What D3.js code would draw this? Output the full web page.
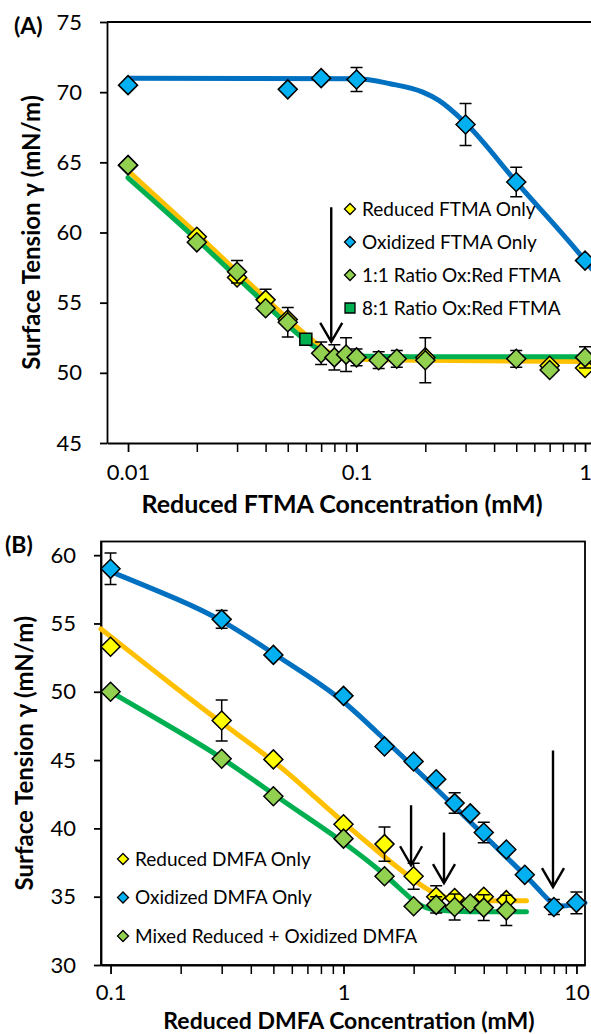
<!DOCTYPE html>
<html><head><meta charset="utf-8">
<script src="https://cdn.jsdelivr.net/npm/d3@7"></script>
<style>
body{margin:0;background:#fff}
svg{display:block}
text{font-family:Lato,"Open Sans",sans-serif;fill:#000}
</style>
</head><body>
<svg id="c" width="591" height="1034"></svg>
<script>
// ---------------- Panel A data (FTMA) ----------------
const aRedX  = [0.01, 0.02, 0.03, 0.04, 0.05, 0.2, 0.7, 1.0];
const aRedY  = [64.8, 59.7, 56.8, 55.2, 53.8, 51.1, 50.5, 50.35];
const aRedE  = [0, 0, 0, 0.75, 0, 0, 0, 0];
const aOxX   = [0.01, 0.05, 0.07, 0.1, 0.3, 0.5, 1.0];
const aOxY   = [70.5, 70.2, 71.0, 70.9, 67.7, 63.6, 58.0];
const aOxE   = [0, 0, 0.3, 0.85, 1.5, 1.05, 0];
const aMixX  = [0.01, 0.02, 0.03, 0.04, 0.05, 0.07, 0.08, 0.09, 0.1, 0.125, 0.15, 0.2, 0.5, 0.7, 1.0];
const aMixY  = [64.8, 59.3, 57.2, 54.6, 53.6, 51.4, 51.1, 51.3, 51.1, 50.9, 51.0, 50.9, 51.0, 50.2, 51.1];
const aMixE  = [0, 0, 0.8, 0, 1.05, 0.8, 0.9, 1.2, 0.6, 0.6, 0.6, 1.6, 0.6, 0, 0.75];
const a81X   = [0.06];
const a81Y   = [52.4];
// fitted curves
const aRedFitX = [0.01, 0.02, 0.04, 0.06, 0.075, 0.09, 0.2, 1.07];
const aRedFitY = [64.4, 59.9, 55.3, 52.7, 51.5, 51.0, 50.9, 50.8];
const aMixFitX = [0.01, 0.02, 0.04, 0.06, 0.075, 0.09, 0.2, 1.07];
const aMixFitY = [63.9, 59.5, 54.9, 52.3, 51.35, 51.2, 51.15, 51.15];
const aOxFitX  = [0.01, 0.1, 0.14, 0.195, 0.23, 0.3, 0.5, 1.0, 1.07];
const aOxFitY  = [71.0, 70.95, 70.6, 70.0, 69.4, 67.8, 63.6, 58.0, 57.4];
const aArrowX = [0.0775], aArrowTop = [61.8], aArrowTip = [52.2];
const aYTicks = [45, 50, 55, 60, 65, 70, 75];
const aXTicks = [0.01, 0.1, 1];
const aXMinor = [0.02,0.03,0.04,0.05,0.06,0.07,0.08,0.09,0.2,0.3,0.4,0.5,0.6,0.7,0.8,0.9];
const aLegend = ["Reduced FTMA Only", "Oxidized FTMA Only", "1:1 Ratio Ox:Red FTMA", "8:1 Ratio Ox:Red FTMA"];

// ---------------- Panel B data (DMFA) ----------------
const bRedX = [0.1, 0.3, 0.5, 1, 1.5, 2, 2.5, 3, 4, 5];
const bRedY = [53.3, 47.9, 45.05, 40.3, 38.85, 36.5, 35.0, 34.9, 35.0, 34.75];
const bRedE = [0, 1.5, 0, 0, 1.25, 0.95, 0.8, 0, 0, 0];
const bOxX  = [0.1, 0.3, 0.5, 1, 1.5, 2, 2.5, 3, 3.5, 4, 5, 6, 8, 10];
const bOxY  = [59.0, 55.3, 52.7, 49.7, 46.0, 44.9, 43.6, 41.85, 41.1, 39.7, 38.45, 36.6, 34.25, 34.55];
const bOxE  = [1.15, 0.65, 0, 0, 0, 0, 0, 0.75, 0, 0.75, 0, 0, 0.55, 0.8];
const bMixX = [0.1, 0.3, 0.5, 1, 1.5, 2, 2.5, 3, 3.5, 4, 5];
const bMixY = [50.0, 45.1, 42.35, 39.25, 36.5, 34.3, 34.4, 34.25, 34.5, 34.2, 34.0];
const bMixE = [0, 0, 0, 0, 0, 0, 0.6, 0.95, 0, 0.95, 1.1];
const bRedFitX = [0.091, 0.2, 0.3, 0.5, 0.7, 1, 1.5, 2, 2.5, 3, 4, 6.1];
const bRedFitY = [54.6, 50.0, 47.7, 45.0, 42.8, 40.4, 37.9, 36.2, 35.1, 34.75, 34.7, 34.7];
const bMixFitX = [0.1, 0.2, 0.3, 0.5, 0.7, 1, 1.5, 2, 2.3, 3, 6.1];
const bMixFitY = [50.0, 47.0, 45.2, 42.5, 40.8, 39.0, 36.7, 34.6, 34.05, 33.9, 33.9];
const bOxFitX  = [0.1, 0.2, 0.3, 0.5, 0.7, 1, 1.5, 2, 3, 4, 5, 6, 7, 7.7, 8.5, 9.5, 10.88];
const bOxFitY  = [58.8, 56.7, 55.3, 52.8, 51.2, 49.4, 46.5, 44.5, 41.6, 39.5, 37.9, 36.6, 35.4, 34.6, 34.25, 34.4, 34.55];
const bArrowX = [1.95, 2.7, 7.93], bArrowTop = [41.7, 39.7, 45.7], bArrowTip = [37.3, 36.0, 35.7];
const bYTicks = [30, 35, 40, 45, 50, 55, 60];
const bXTicks = [0.1, 1, 10];
const bXMinor = [0.2,0.3,0.4,0.5,0.6,0.7,0.8,0.9,2,3,4,5,6,7,8,9];
const bLegend = ["Reduced DMFA Only", "Oxidized DMFA Only", "Mixed Reduced + Oxidized DMFA"];

const C = {blueLine:"#0070C0", orange:"#FFC000", greenLine:"#00B050",
           blue:"#00B0F0", yellow:"#FFFF00", green:"#92D050", dark:"#00B050"};

const svg = d3.select("#c");
const zip = (xs, ys) => xs.map((x,i)=>[x, ys[i]]);
const diamond = r => `M0,${-r}L${r},0L0,${r}L${-r},0Z`;
const square = r => `M${-r},${-r}H${r}V${r}H${-r}Z`;

function panel(o){
  const g = svg.append("g");
  const x = o.x, y = o.y;
  const [x0, x1] = x.range(), [y0, y1] = y.range();
  if (o.box) {
    g.append("rect").attr("x", x0).attr("y", y1).attr("width", x1-x0).attr("height", y0-y1)
      .attr("fill","none").attr("stroke","#000").attr("stroke-width",1.8);
  } else {
    g.append("line").attr("x1", x0).attr("x2", x1).attr("y1", y1).attr("y2", y1)
      .attr("stroke","#000").attr("stroke-width",1.8);
  }
  const ya = g.append("g").attr("transform",`translate(${x0},0)`)
    .call(d3.axisLeft(y).tickValues(o.yTicks).tickSize(7).tickSizeOuter(0).tickPadding(18).tickFormat(d3.format("d")));
  ya.attr("font-size", 22).attr("font-family", null);
  ya.selectAll("line,path").attr("stroke","#000").attr("stroke-width",1.8);
  const xa = g.append("g").attr("transform",`translate(0,${y0})`)
    .call(d3.axisBottom(x).tickValues(o.xTicks).tickSize(9).tickSizeOuter(0).tickFormat(d=>String(d)));
  xa.attr("font-size", 22).attr("font-family", null);
  xa.selectAll("text").attr("y", o.tickTextY).attr("dy", 0);
  xa.selectAll("line,path").attr("stroke","#000").attr("stroke-width",1.8);
  const xm = g.append("g").attr("transform",`translate(0,${y0})`)
    .call(d3.axisBottom(x).tickValues(o.xMinor).tickSize(9).tickSizeOuter(0).tickFormat(""));
  xm.select("path").remove();
  xm.selectAll("line").attr("stroke","#000").attr("stroke-width",1.5);

  o.fits.forEach(f=>{
    const line = d3.line().x(d=>x(d[0])).y(d=>y(d[1])).curve(f.curve || d3.curveMonotoneX);
    g.append("path").attr("d", line(f.pts)).attr("fill","none")
      .attr("stroke", f.color).attr("stroke-width",5).attr("stroke-linecap","round");
  });
  o.series.forEach(s=>{
    const pts = s.xs.map((v,i)=>({x:v, y:s.ys[i], e:s.es ? s.es[i] : 0}));
    pts.filter(p=>p.e>0).forEach(p=>{
      const cx = x(p.x), ya1 = y(p.y+p.e), ya2 = y(p.y-p.e);
      g.append("path").attr("d", `M${cx},${ya1}V${ya2}M${cx-6},${ya1}H${cx+6}M${cx-6},${ya2}H${cx+6}`)
        .attr("stroke","#000").attr("stroke-width",1.5).attr("fill","none");
    });
    g.selectAll(null).data(pts).join("path")
      .attr("transform", p=>`translate(${x(p.x)},${y(p.y)})`)
      .attr("d", s.shape === "square" ? square(6) : diamond(9.5))
      .attr("fill", s.fill).attr("stroke","#000").attr("stroke-width",1.5);
  });
  o.arrows.x.forEach((ax,i)=>{
    const cx = x(ax), t = y(o.arrows.top[i]), b = y(o.arrows.tip[i]);
    g.append("path").attr("d", `M${cx},${t}V${b}M${cx-11},${b-19}L${cx},${b}L${cx+11},${b-19}`)
      .attr("stroke","#000").attr("stroke-width",2.4).attr("fill","none");
  });
  o.legend.labels.forEach((lab,i)=>{
    const ly = o.legend.y + i*o.legend.dy;
    const s = o.series[i];
    g.append("path").attr("transform",`translate(${o.legend.x},${ly})`)
      .attr("d", s.shape === "square" ? square(5) : diamond(5.5))
      .attr("fill", s.fill).attr("stroke","#000").attr("stroke-width",1.3);
    g.append("text").attr("x", o.legend.x + 12).attr("y", ly).attr("dy","0.35em")
      .attr("font-size", 19).text(lab);
  });
  g.append("text").attr("x", o.xTitle.x).attr("y", o.xTitle.y).attr("text-anchor","middle")
    .attr("font-size", o.xTitle.size).attr("font-weight","bold").text(o.xTitle.t);
  g.append("text").attr("transform",`translate(${o.yTitle.x},${(y0+y1)/2}) rotate(-90)`)
    .attr("text-anchor","middle").attr("font-size", 24).attr("font-weight","bold").text("Surface Tension γ (mN/m)");
  g.append("text").attr("x", o.tag.x).attr("y", o.tag.y).attr("font-size", 23).attr("font-weight","bold").text(o.tag.t);
}

panel({
  x: d3.scaleLog().domain([0.00809, 1.07]).range([107, 107 + Math.log10(1.07/0.00809)*228.5]),
  y: d3.scaleLinear().domain([45, 75]).range([443, 22]),
  box: false, yTicks: aYTicks, xTicks: aXTicks, xMinor: aXMinor, tickTextY: 37,
  fits: [{pts: zip(aRedFitX, aRedFitY), color: C.orange},
         {pts: zip(aOxFitX, aOxFitY), color: C.blueLine},
         {pts: zip(aMixFitX, aMixFitY), color: C.greenLine}],
  series: [{xs: aRedX, ys: aRedY, es: aRedE, fill: C.yellow},
           {xs: aOxX, ys: aOxY, es: aOxE, fill: C.blue},
           {xs: aMixX, ys: aMixY, es: aMixE, fill: C.green},
           {xs: a81X, ys: a81Y, es: null, fill: C.dark, shape: "square"}],
  arrows: {x: aArrowX, top: aArrowTop, tip: aArrowTip},
  legend: {labels: aLegend, x: 350, y: 209, dy: 33},
  xTitle: {t: "Reduced FTMA Concentration (mM)", x: 342, y: 513, size: 25},
  yTitle: {x: 40},
  tag: {t: "(A)", x: 14, y: 34}
});

panel({
  x: d3.scaleLog().domain([0.091, 10.88]).range([101, 585]),
  y: d3.scaleLinear().domain([30, 61]).range([965, 541.5]),
  box: true, yTicks: bYTicks, xTicks: bXTicks, xMinor: bXMinor, tickTextY: 35,
  fits: [{pts: zip(bRedFitX, bRedFitY), color: C.orange, curve: d3.curveBasis},
         {pts: zip(bOxFitX, bOxFitY), color: C.blueLine, curve: d3.curveBasis},
         {pts: zip(bMixFitX, bMixFitY), color: C.greenLine, curve: d3.curveBasis}],
  series: [{xs: bRedX, ys: bRedY, es: bRedE, fill: C.yellow},
           {xs: bOxX, ys: bOxY, es: bOxE, fill: C.blue},
           {xs: bMixX, ys: bMixY, es: bMixE, fill: C.green}],
  arrows: {x: bArrowX, top: bArrowTop, tip: bArrowTip},
  legend: {labels: bLegend, x: 123, y: 859, dy: 38.5},
  xTitle: {t: "Reduced DMFA Concentration (mM)", x: 349, y: 1029, size: 23},
  yTitle: {x: 33},
  tag: {t: "(B)", x: 5, y: 553}
});
</script>
</body></html>
